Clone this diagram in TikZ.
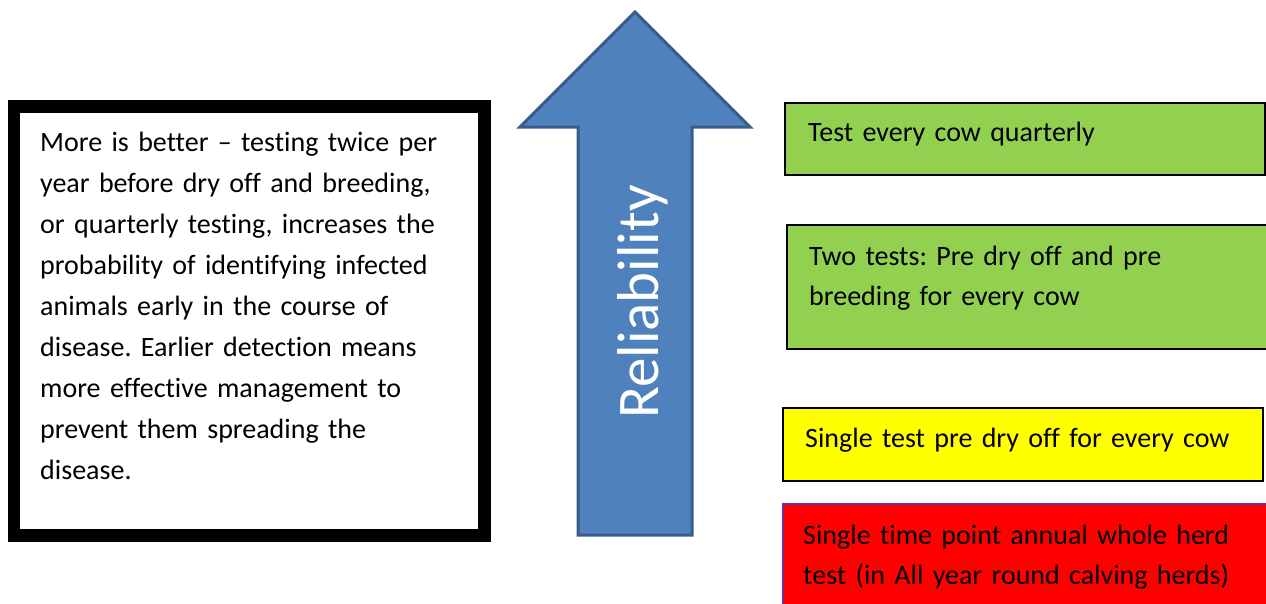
\documentclass[tikz,border=0pt]{standalone}
\usepackage{fontspec}
\setmainfont{Carlito}[Ligatures={TeX,NoCommon}]
\frenchspacing
\definecolor{cgreen}{HTML}{92D050}
\definecolor{cyellow}{HTML}{FFFF00}
\definecolor{cred}{HTML}{FF0000}
\definecolor{cpurple}{HTML}{7030A0}
\definecolor{afill}{HTML}{4F81BD}
\definecolor{aline}{HTML}{385D8A}
\tikzset{
  boxtxt/.style={anchor=base west, inner sep=0pt, align=left, text width=#1,
    font=\fontsize{28}{40}\selectfont},
  lefttxt/.style={anchor=base west, inner sep=0pt, align=left, text width=450pt,
    font=\fontsize{28}{41}\selectfont},
  optbox/.style={draw=black, line width=1.5pt},
}
\begin{document}
\begin{tikzpicture}[x=1pt,y=-1pt]
\useasboundingbox (0,0) rectangle (1266,603);
\clip (0,0) rectangle (1266,603);
% left framed box
\draw[line width=12.5pt, fill=white] (14,106.5) rectangle (484.5,535.5);
\node[lefttxt] (info) at (40,151) {More is better – testing twice per\\
year before dry off and breeding,\\
or quarterly testing, increases the\\
probability of identifying infected\\
animals early in the course of\\
disease. Earlier detection means\\
more effective management to\\
prevent them spreading the\\
disease.};
% arrow
\draw[fill=afill, draw=aline, line width=3pt, line join=miter]
  (635,12) -- (750,127) -- (692,127) -- (692,535) -- (578,535) -- (578,127) -- (520,127) -- cycle;
\node[rotate=90, anchor=base, inner sep=0pt, text=white, font=\fontsize{59}{62}\selectfont] (rel) at (658,302) {Reliability};
% option boxes
\draw[optbox, fill=cgreen] (785,103) rectangle (1265,175);
\node[boxtxt=440pt] (q) at (808,141) {Test every cow quarterly};
\draw[optbox, fill=cgreen] (787,225) rectangle (1270,349);
\node[boxtxt=440pt] (two) at (809,265) {Two tests: Pre dry off and pre\\breeding for every cow};
\draw[optbox, fill=cyellow] (783,408) rectangle (1263,481);
\node[boxtxt=460pt] (single) at (805,447) {Single test pre dry off for every cow};
\draw[draw=cpurple, line width=1.5pt, fill=cred] (783,504) rectangle (1272,610);
\node[boxtxt=460pt] (annual) at (803,544) {Single time point annual whole herd\\test (in All year round calving herds)};
\end{tikzpicture}
\end{document}
